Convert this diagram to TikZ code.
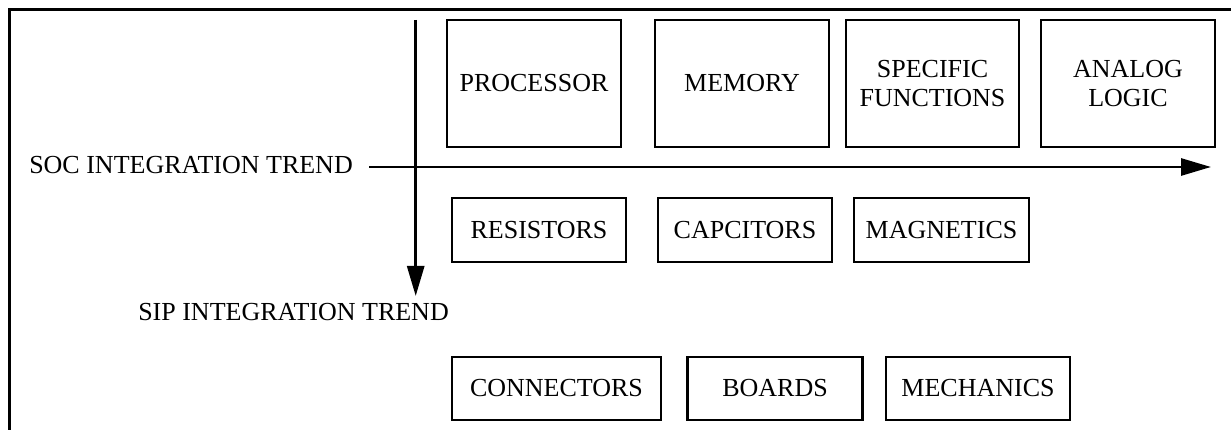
\documentclass[tikz,border=0pt]{standalone}
\usepackage{fontspec}
\setmainfont{Liberation Serif}
\usetikzlibrary{arrows.meta}
\tikzset{
  box/.style={draw, line width=2.8pt, inner sep=0pt, align=center,
    font=\fontsize{26}{29}\selectfont},
  lbl/.style={inner sep=0pt, font=\fontsize{26}{29}\selectfont},
  trend/.style={line width=2.8pt, -{Triangle[length=30pt,width=17pt]}},
  frame/.style={line width=3pt}
}
\begin{document}
\begin{tikzpicture}[x=1pt,y=-1pt]
\useasboundingbox (0,0) rectangle (1231,430);
% frame (top and left only)
\coordinate (fb) at (9.5,431);
\coordinate (fc) at (9.5,10);
\coordinate (fr) at (1232,10);
\draw[frame] (fb) -- (fc) -- (fr);
% top row
\node[box, minimum width=174pt, minimum height=127pt] (proc) at (534,83.5) {PROCESSOR};
\node[box, minimum width=174pt, minimum height=127pt] (mem) at (742,83.5) {MEMORY};
\node[box, minimum width=173pt, minimum height=127pt] (spec) at (932.5,83.5) {SPECIFIC\\FUNCTIONS};
\node[box, minimum width=174pt, minimum height=127pt] (anal) at (1128,83.5) {ANALOG\\LOGIC};
% middle row
\node[box, minimum width=174pt, minimum height=64pt] (res) at (539,230) {RESISTORS};
\node[box, minimum width=174pt, minimum height=64pt] (cap) at (745,230) {CAPCITORS};
\node[box, minimum width=175pt, minimum height=64pt] (mag) at (941.5,230) {MAGNETICS};
% bottom row
\node[box, minimum width=209pt, minimum height=63pt] (con) at (556.5,388.5) {CONNECTORS};
\node[box, minimum width=175pt, minimum height=63pt] (brd) at (775,388.5) {BOARDS};
\node[box, minimum width=184pt, minimum height=63pt] (mech) at (978,388.5) {MECHANICS};
% labels
\node[lbl, anchor=base east] (soc) at (353,173.5) {SOC INTEGRATION TREND};
\node[lbl, anchor=base east] (sip) at (449,320.5) {SIP INTEGRATION TREND};
% trend arrows
\coordinate (hs) at (369,167);
\coordinate (he) at (1211,167);
\coordinate (vs) at (415.7,20);
\coordinate (ve) at (415.7,296);
\draw[trend] (hs) -- (he);
\draw[trend] (vs) -- (ve);
\end{tikzpicture}
\end{document}
